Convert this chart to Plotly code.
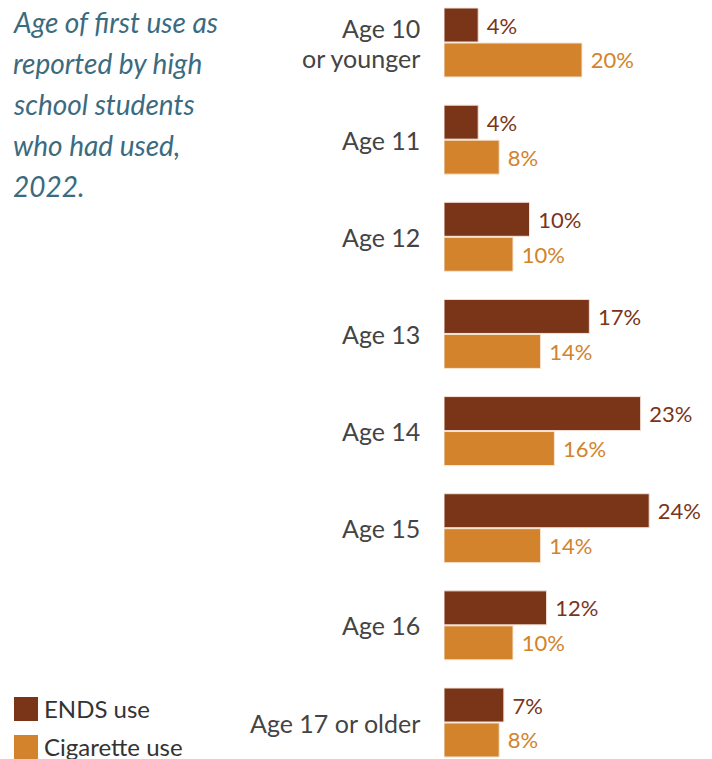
import plotly.graph_objects as go

categories = ["Age 10<br>or younger", "Age 11", "Age 12", "Age 13", "Age 14", "Age 15", "Age 16", "Age 17 or older"]
ends_use = [4, 4, 10, 17, 23, 24, 12, 7]
cigarette_use = [20, 8, 10, 14, 16, 14, 10, 8]
title_lines = ["Age of first use as", "reported by high", "school students", "who had used,", "2022."]
legend_names = ["ENDS use", "Cigarette use"]

W, H = 712, 759
L = 444
PW = W - L

ENDS_COLOR = "#7a3519"
CIG_COLOR = "#d2832c"
FONT = "Lato"

def px_x(px):
    return (px - L) / PW

def px_y(py):
    return 1 - py / H

fig = go.Figure()
fig.add_trace(go.Bar(
    y=categories, x=ends_use, orientation="h", xaxis="x", yaxis="y",
    width=0.35, offset=-0.355,
    marker=dict(color=ENDS_COLOR, line=dict(color="#f3e3d9", width=1)),
    texttemplate="\u00a0%{x}%", textposition="outside", cliponaxis=False,
    textfont=dict(family=FONT, size=22, color=ENDS_COLOR),
    showlegend=False, name=legend_names[0], hoverinfo="skip",
))
fig.add_trace(go.Bar(
    y=categories, x=cigarette_use, orientation="h", xaxis="x2", yaxis="y",
    width=0.35, offset=0.005,
    marker=dict(color=CIG_COLOR, line=dict(color="#f6e6d6", width=1)),
    texttemplate="\u00a0%{x}%", textposition="outside", cliponaxis=False,
    textfont=dict(family=FONT, size=22, color=CIG_COLOR),
    showlegend=False, name=legend_names[1], hoverinfo="skip",
))

unit = (722.5 - 42.5) / 7
y_top = -42.5 / unit
y_bot = 7 + (H - 722.5) / unit

fig.update_layout(
    width=W, height=H,
    margin=dict(l=L, r=0, t=0, b=0),
    paper_bgcolor="white", plot_bgcolor="white",
    font=dict(family=FONT),
    xaxis=dict(visible=False, range=[0, PW / 8.55], fixedrange=True),
    xaxis2=dict(visible=False, range=[0, PW / 6.9], overlaying="x", fixedrange=True),
    yaxis=dict(
        type="category", categoryarray=categories, categoryorder="array",
        range=[y_bot, y_top], showgrid=False, zeroline=False,
        showline=False, showticklabels=False, fixedrange=True,
    ),
)

# Category labels (one annotation per line so the line spacing matches)
for cat in categories:
    lines = cat.split("<br>")
    n = len(lines)
    for i, ln in enumerate(lines):
        shift = (n - 1) * 15 - i * 30
        fig.add_annotation(
            text=ln, xref="paper", yref="y", x=px_x(422), y=cat,
            xanchor="right", yanchor="middle", yshift=shift,
            showarrow=False, font=dict(family=FONT, size=25, color="#444444"),
        )

# Title lines
baselines = [32, 73, 114, 155, 196]
for txt, bl in zip(title_lines, baselines):
    fig.add_annotation(
        text="<i>" + txt + "</i>", xref="paper", yref="paper",
        x=px_x(11), y=px_y(bl - 10), xanchor="left", yanchor="middle",
        showarrow=False, font=dict(family=FONT, size=28, color="#3a6b80"),
    )

# Legend
legend_items = [(legend_names[0], ENDS_COLOR, 697), (legend_names[1], CIG_COLOR, 735)]
for name, col, top in legend_items:
    fig.add_shape(type="rect", xref="paper", yref="paper",
                  x0=px_x(14), x1=px_x(38), y0=px_y(top), y1=px_y(top + 24),
                  fillcolor=col, line=dict(width=0))
    fig.add_annotation(
        text=name, xref="paper", yref="paper",
        x=px_x(42), y=px_y(top + 11), xanchor="left", yanchor="middle",
        showarrow=False, font=dict(family=FONT, size=24, color="#333333"),
    )

fig.write_html("out.html", config={"displayModeBar": False},
               post_script="document.body.style.margin='0';")
